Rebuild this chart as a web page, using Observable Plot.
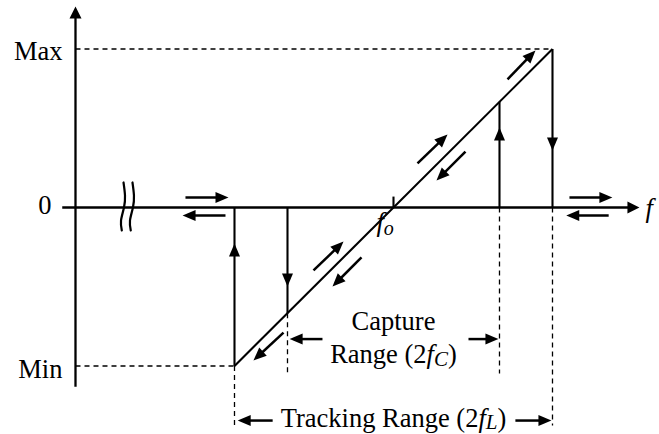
<!DOCTYPE html>
<html><head><meta charset="utf-8">
<script src="https://cdn.jsdelivr.net/npm/d3@7"></script>
<script src="https://cdn.jsdelivr.net/npm/@observablehq/plot@0.6"></script>
<style>body{margin:0;background:#fff} #chart svg{display:block}</style>
</head><body><div id="chart"></div>
<script>
// ---------- data ----------
const fo = 0;          // free-running frequency (centre)
const fC = 2;          // half capture range
const fL = 3;          // half tracking (lock) range
const levelLabels = ["Max", "0", "Min"];
const levelValues = [1, 0, -1];
const yAxisAt = -6;
const yAxisBottom = -1.13, yAxisTop = 1.268;
const xAxisStart = -6.25, xAxisEnd = 4.64;
const foTickTop = 0.069;
const dashBottomInner = -1.047, dashBottomOuter = -1.375;

// vertical jumps of the characteristic
const jumpX = [-fL, -fC, fC, fL];
const jumpFrom = [0, 0, 0, 1];
const jumpTo = [-1, -fC / fL, fC / fL, 0];
const jumpTip = [-0.227, -0.498, 0.505, 0.36];
const jumpDir = ["up", "down", "up", "down"];

// arrows running along the characteristic
const slopeStart = [[-2.075, -0.789], [-1.509, -0.397], [-0.604, -0.315], [0.453, 0.278], [1.358, 0.353], [2.151, 0.808]];
const slopeEnd   = [[-2.642, -0.965], [-0.943, -0.215], [-1.151, -0.498], [1.019, 0.461], [0.811, 0.170], [2.679, 0.991]];

// sweep arrows next to the f axis
const sideFrom = [-3.925, -3.17, 3.32, 4.06];
const sideTo   = [-3.113, -3.98, 4.13, 3.26];
const sideV    = [0.063, -0.05, 0.063, -0.05];

// range dimension arrows
const rangeFrom = [-1.34, 1.415, -2.28, 2.30];
const rangeTo   = [-1.96, 1.98, -2.94, 2.98];
const rangeV    = [-0.83, -0.83, -1.344, -1.344];

// break mark shape
const breakU = [-5.094, -4.925];
const breakDu = [0, 0.028, 0.009, -0.047, -0.032];
const breakDv = [0.158, 0.076, 0, -0.082, -0.145];

// ---------- scales ----------
const W = 659, H = 434;
const xDomain = [-7.415, 5.019], yDomain = [-1.432, 1.306];
const xs = Plot.scale({x: {domain: xDomain, range: [0, W]}});
const ys = Plot.scale({y: {domain: yDomain, range: [H, 0]}});
function angleOf(d) {
  const dx = xs.apply(d.x2) - xs.apply(d.x1);
  const dy = ys.apply(d.y2) - ys.apply(d.y1);
  return Math.atan2(dx, -dy) * 180 / Math.PI;
}
function head(L, Wd) {
  return {draw(ctx) { ctx.moveTo(0, 0); ctx.lineTo(-Wd / 2, L); ctx.lineTo(Wd / 2, L); ctx.closePath(); }};
}

// ---------- derived geometry ----------
const dashed = [
  {x1: yAxisAt, y1: 1, x2: fL, y2: 1},
  {x1: yAxisAt, y1: -1, x2: -fL, y2: -1},
  {x1: -fL, y1: -1, x2: -fL, y2: dashBottomOuter},
  {x1: -fC, y1: -fC / fL, x2: -fC, y2: dashBottomInner},
  {x1: fC, y1: 0, x2: fC, y2: dashBottomInner},
  {x1: fL, y1: 0, x2: fL, y2: dashBottomOuter}
];
const solid = [
  {x1: -fL, y1: -1, x2: fL, y2: 1},
  ...jumpX.map((x, i) => ({x1: x, y1: jumpFrom[i], x2: x, y2: jumpTo[i]})),
  {x1: fo, y1: 0, x2: fo, y2: foTickTop}
];
const axes = [
  {x1: yAxisAt, y1: yAxisBottom, x2: yAxisAt, y2: yAxisTop},
  {x1: xAxisStart, y1: 0, x2: xAxisEnd, y2: 0}
];
axes.forEach(d => d.angle = angleOf(d));
const small = [
  ...slopeStart.map((s, i) => ({x1: s[0], y1: s[1], x2: slopeEnd[i][0], y2: slopeEnd[i][1]})),
  ...sideFrom.map((u, i) => ({x1: u, y1: sideV[i], x2: sideTo[i], y2: sideV[i]})),
  ...rangeFrom.map((u, i) => ({x1: u, y1: rangeV[i], x2: rangeTo[i], y2: rangeV[i]}))
];
small.forEach(d => d.angle = angleOf(d));
const jumpHeads = jumpX.map((x, i) => ({x, y: jumpTip[i], angle: jumpDir[i] === "up" ? 0 : 180}));
const breakPts = breakU.flatMap((b, k) => breakDu.map((du, j) => ({x: b + du, y: breakDv[j], k})));

const font = "Liberation Serif, Times New Roman, serif";
const fs = 26.5;

const chart = Plot.plot({
  width: W, height: H,
  marginTop: 0, marginRight: 0, marginBottom: 0, marginLeft: 0,
  x: {domain: xDomain, axis: null},
  y: {domain: yDomain, axis: null},
  style: {background: "#fff", color: "#000"},
  marks: [
    Plot.link(dashed, {x1: "x1", y1: "y1", x2: "x2", y2: "y2", stroke: "#000", strokeWidth: 1.3, strokeDasharray: "5,4"}),
    Plot.link(solid, {x1: "x1", y1: "y1", x2: "x2", y2: "y2", stroke: "#000", strokeWidth: 2.1}),
    Plot.arrow(axes, {x1: "x1", y1: "y1", x2: "x2", y2: "y2", stroke: "#000", strokeWidth: 2.3, headLength: 0, insetEnd: 6, strokeLinecap: "butt"}),
    Plot.arrow(small, {x1: "x1", y1: "y1", x2: "x2", y2: "y2", stroke: "#000", strokeWidth: 2.5, headLength: 0, insetEnd: 7, strokeLinecap: "butt"}),
    Plot.dot(axes, {x: "x2", y: "y2", symbol: head(12, 12), rotate: "angle", fill: "#000", stroke: "none"}),
    Plot.dot(small, {x: "x2", y: "y2", symbol: head(13, 11), rotate: "angle", fill: "#000", stroke: "none"}),
    Plot.dot(jumpHeads, {x: "x", y: "y", symbol: head(13, 11), rotate: "angle", fill: "#000", stroke: "none"}),
    Plot.line(breakPts, {x: "x", y: "y", z: "k", curve: "natural", stroke: "#000", strokeWidth: 2.2}),
    Plot.text([0, 2], {x: yAxisAt, y: i => levelValues[i], text: i => levelLabels[i], dx: -13, dy: 3, textAnchor: "end", fontSize: fs, fontFamily: font}),
    Plot.text([1], {x: yAxisAt, y: i => levelValues[i], text: i => levelLabels[i], dx: -24, dy: -2, textAnchor: "end", fontSize: fs, fontFamily: font}),
    Plot.text(["f"], {x: xAxisEnd, y: 0, text: d => d, dx: 6, dy: 1, textAnchor: "start", fontSize: fs, fontFamily: font, fontStyle: "italic"}),
    Plot.text(["fo"], {x: fo, y: 0, text: d => d, dx: -17, dy: 15, textAnchor: "start", fontSize: fs, fontFamily: font, className: "lbl-fo"}),
    Plot.text(["Capture"], {x: fo, y: rangeV[0], text: d => d, dy: -17.5, fontSize: fs, fontFamily: font}),
    Plot.text(["Range (2fC)"], {x: fo, y: rangeV[0], text: d => d, dy: 15.5, fontSize: fs, fontFamily: font, className: "lbl-cap"}),
    Plot.text(["Tracking Range (2fL)"], {x: fo, y: rangeV[2], text: d => d, dy: -2, fontSize: fs, fontFamily: font, className: "lbl-trk"})
  ]
});
document.getElementById("chart").appendChild(chart);

// italic symbols and subscripts
const sel = d3.select(chart);
sel.selectAll(".lbl-fo text").html('<tspan font-style="italic">f</tspan><tspan font-style="italic" font-size="20" dy="4">o</tspan>');
sel.selectAll(".lbl-cap text").html('Range (2<tspan font-style="italic">f</tspan><tspan font-style="italic" font-size="21" dy="3">C</tspan><tspan dy="-3">)</tspan>');
sel.selectAll(".lbl-trk text").html('Tracking Range (2<tspan font-style="italic">f</tspan><tspan font-style="italic" font-size="21" dy="2">L</tspan><tspan dy="-2">)</tspan>');
</script>
</body></html>
